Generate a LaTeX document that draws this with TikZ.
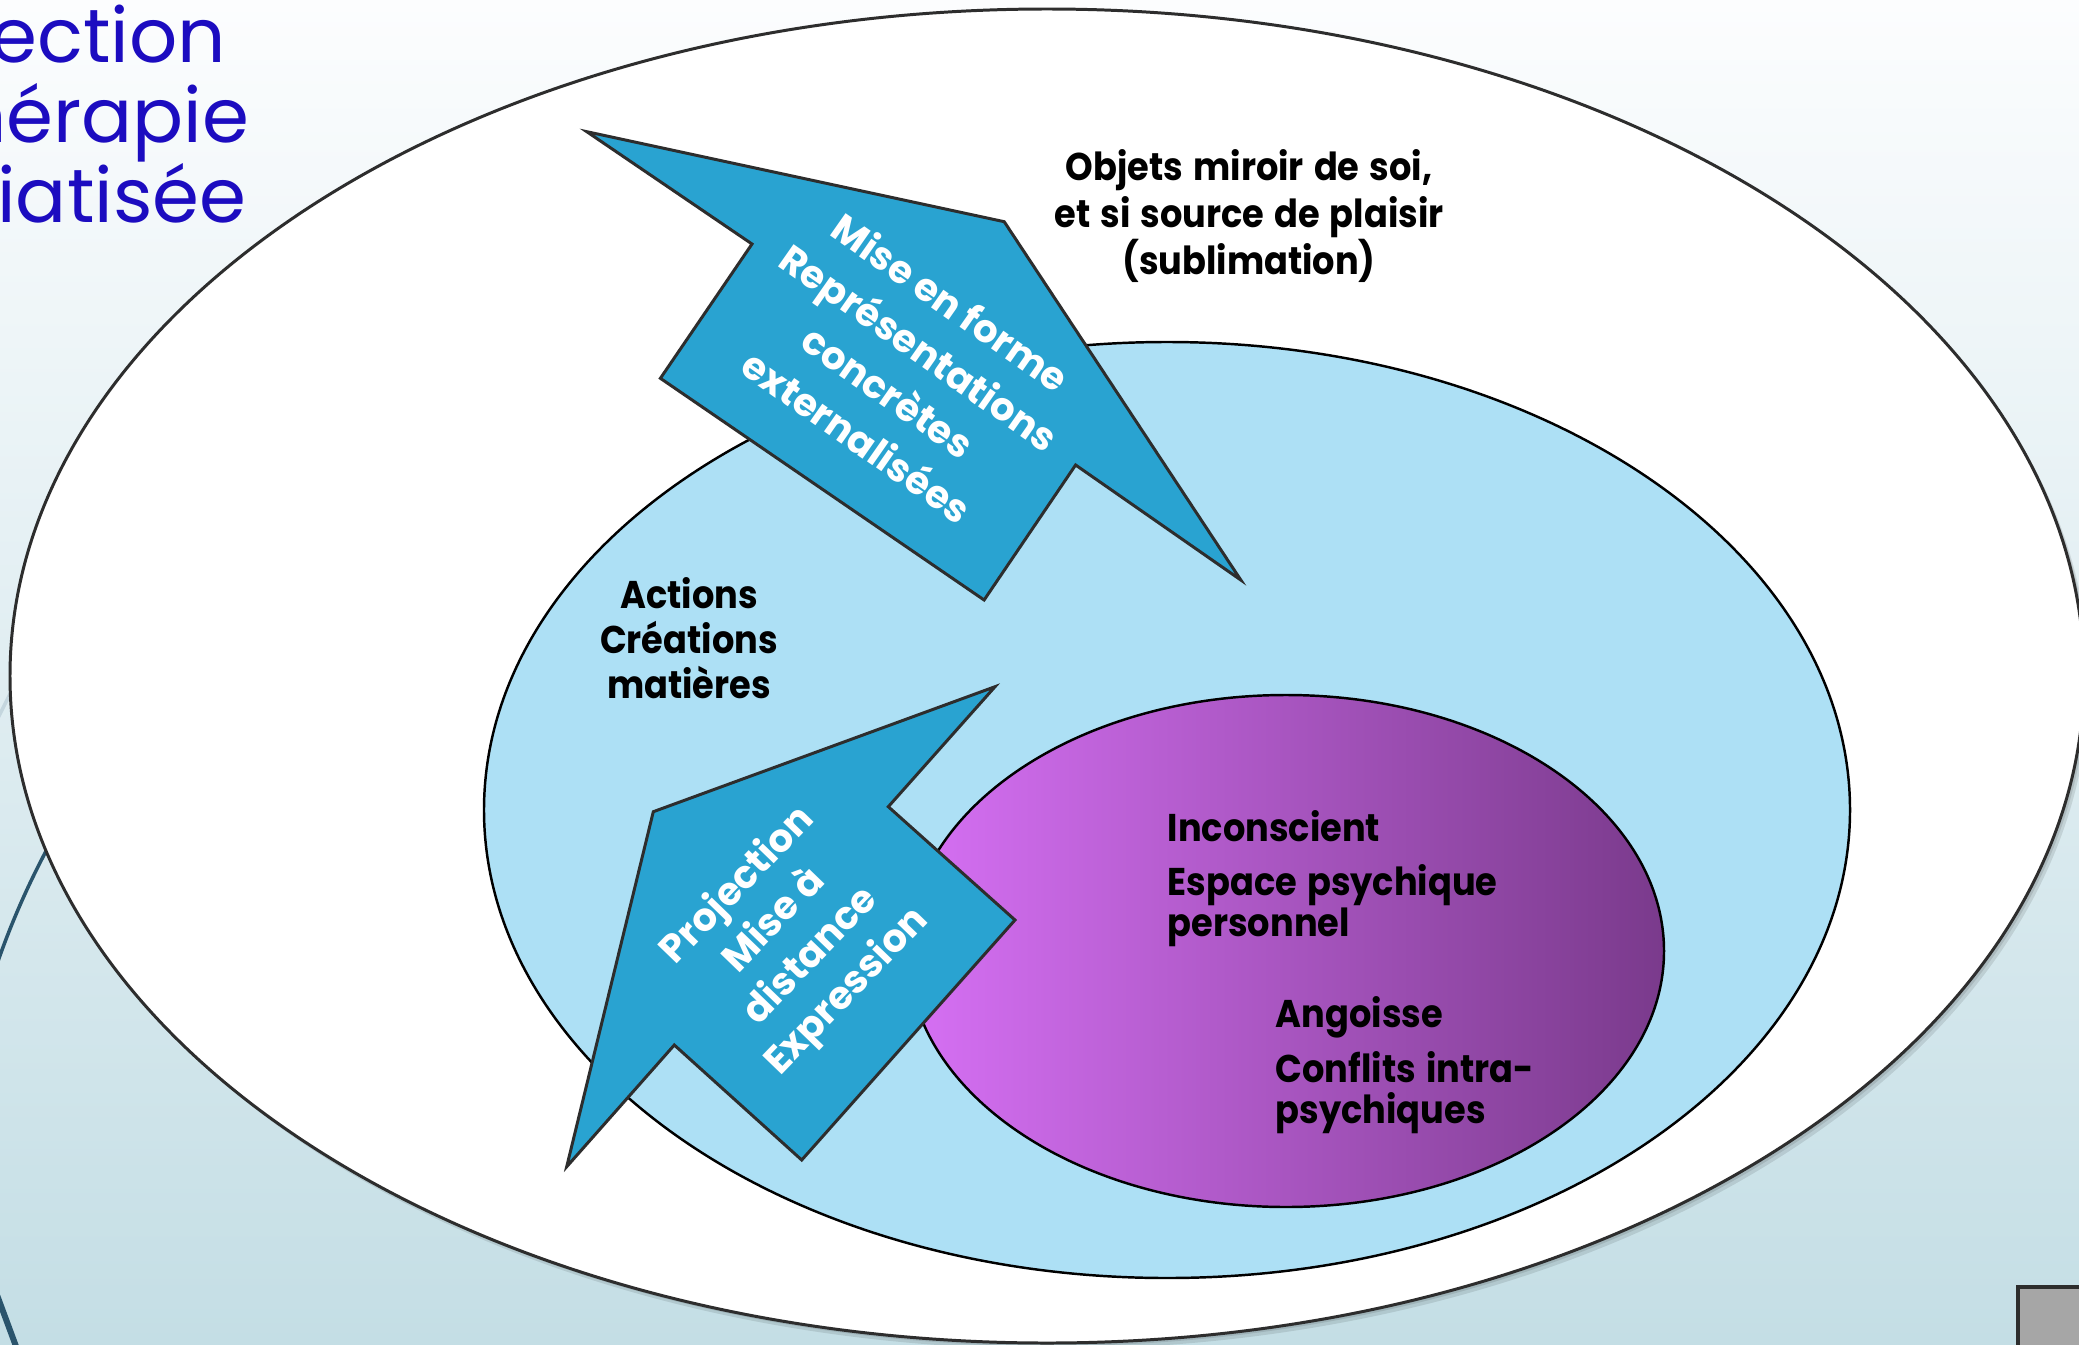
\documentclass[tikz,border=0pt]{standalone}
\usepackage{fontspec}
\setmainfont{Poppins}
\newfontfamily\lblfont{Poppins}[FakeStretch=0.91, WordSpace=1.35]
\usetikzlibrary{shapes.geometric}
\definecolor{titleblue}{RGB}{28,12,192}
\definecolor{arrowblue}{RGB}{41,163,209}
\definecolor{lightblue}{RGB}{173,224,245}
\definecolor{purpleL}{RGB}{214,112,244}
\definecolor{purpleR}{RGB}{122,58,140}
\definecolor{bgtop}{RGB}{252,253,254}
\definecolor{bgmid}{RGB}{226,238,242}
\definecolor{bgbottom}{RGB}{196,222,229}
\definecolor{arcdark}{RGB}{42,84,108}
\definecolor{arclight}{RGB}{196,214,222}
\definecolor{linegrey}{RGB}{45,45,45}
\definecolor{boxgrey}{RGB}{166,166,166}
\tikzset{
  lbl/.style={font=\lblfont\bfseries\fontsize{11}{14}\selectfont, text=black, inner sep=0pt},
  uptxt/.style={font=\bfseries\fontsize{11}{15.5}\selectfont, text=white, align=center, inner sep=0pt},
  lowtxt/.style={font=\bfseries\fontsize{11}{14.4}\selectfont, text=white, align=center, inner sep=0pt},
  titletxt/.style={font=\fontsize{21.5}{26}\selectfont, text=titleblue, inner sep=0pt, anchor=base east},
  ellshape/.style={ellipse, inner sep=0pt, outer sep=0pt},
  blockarrow/.style={draw=linegrey, line width=0.85pt, fill=arrowblue, line join=miter},
}
\begin{document}
\begin{tikzpicture}
\clip (0,0) rectangle (20.79,13.44);
\shade[top color=bgtop, middle color=bgmid, bottom color=bgbottom] (0,0) rectangle (20.79,13.44);
% background decoration
\draw[arcdark, line width=1pt] (7.55,1.18) ++(140:8.02) arc[start angle=140, end angle=172, radius=8.02];
\draw[arcdark, line width=1.7pt] (-0.03,0.49) -- (0.17,-0.05);
\draw[arclight, line width=1pt] (-0.05,6.2) -- (0.35,7.0);
% title
\node[titletxt] (t1) at (2.27,12.81) {ection};
\node[titletxt] (t2) at (2.50,12.01) {hérapie};
\node[titletxt] (t3) at (2.47,11.21) {diatisée};
% outer ellipse with soft shadow
\fill[black, opacity=0.10] (10.52,6.62) ellipse [x radius=10.37, y radius=6.67];
\fill[black, opacity=0.10] (10.50,6.65) ellipse [x radius=10.37, y radius=6.67];
\node[ellshape, draw=linegrey, line width=0.85pt, fill=white, minimum width=20.74cm, minimum height=13.34cm] (outer) at (10.47,6.68) {};
\node[ellshape, draw=black, line width=0.7pt, fill=lightblue, minimum width=13.66cm, minimum height=9.36cm] (actions) at (11.67,5.34) {};
\node[ellshape, draw=black, line width=0.7pt, left color=purpleL, right color=purpleR, minimum width=7.56cm, minimum height=5.12cm] (psyche) at (12.86,3.93) {};
% upper block arrow
\draw[blockarrow] (5.868,12.123) -- (10.042,11.223) -- (12.408,7.64) -- (10.756,8.79)
  -- (9.841,7.44) -- (6.604,9.657) -- (7.52,11.0) -- cycle;
% lower block arrow
\draw[blockarrow] (9.95,6.573) -- (6.533,5.323) -- (5.667,1.773) -- (6.743,2.99)
  -- (8.017,1.84) -- (10.15,4.24) -- (8.883,5.373) -- cycle;
% arrow texts
\node[uptxt, rotate=-35] (uptext) at (9.04,9.75) {Mise en forme\\Représentations\\concrètes\\externalisées};
\node[lowtxt, rotate=46] (lowtext) at (7.93,4.05) {Projection\\Mise à\\distance\\Expression};
% labels
\node[lbl, anchor=base] (obj1) at (12.49,11.63) {Objets miroir de soi,};
\node[lbl, anchor=base] (obj2) at (12.49,11.16) {et si source de plaisir};
\node[lbl, anchor=base] (obj3) at (12.49,10.70) {(sublimation)};
\node[lbl, anchor=base] (act1) at (6.89,7.36) {Actions};
\node[lbl, anchor=base] (act2) at (6.89,6.91) {Créations};
\node[lbl, anchor=base] (act3) at (6.89,6.46) {matières};
\node[lbl, anchor=base west] (inc1) at (11.67,5.03) {Inconscient};
\node[lbl, anchor=base west] (inc2) at (11.67,4.49) {Espace psychique};
\node[lbl, anchor=base west] (inc3) at (11.67,4.08) {personnel};
\node[lbl, anchor=base west] (ang1) at (12.75,3.17) {Angoisse};
\node[lbl, anchor=base west] (ang2) at (12.75,2.62) {Conflits intra-};
\node[lbl, anchor=base west] (ang3) at (12.75,2.21) {psychiques};
% corner box
\draw[fill=boxgrey, draw=linegrey, line width=0.9pt] (20.18,-0.1) rectangle (20.95,0.57);
\end{tikzpicture}
\end{document}
